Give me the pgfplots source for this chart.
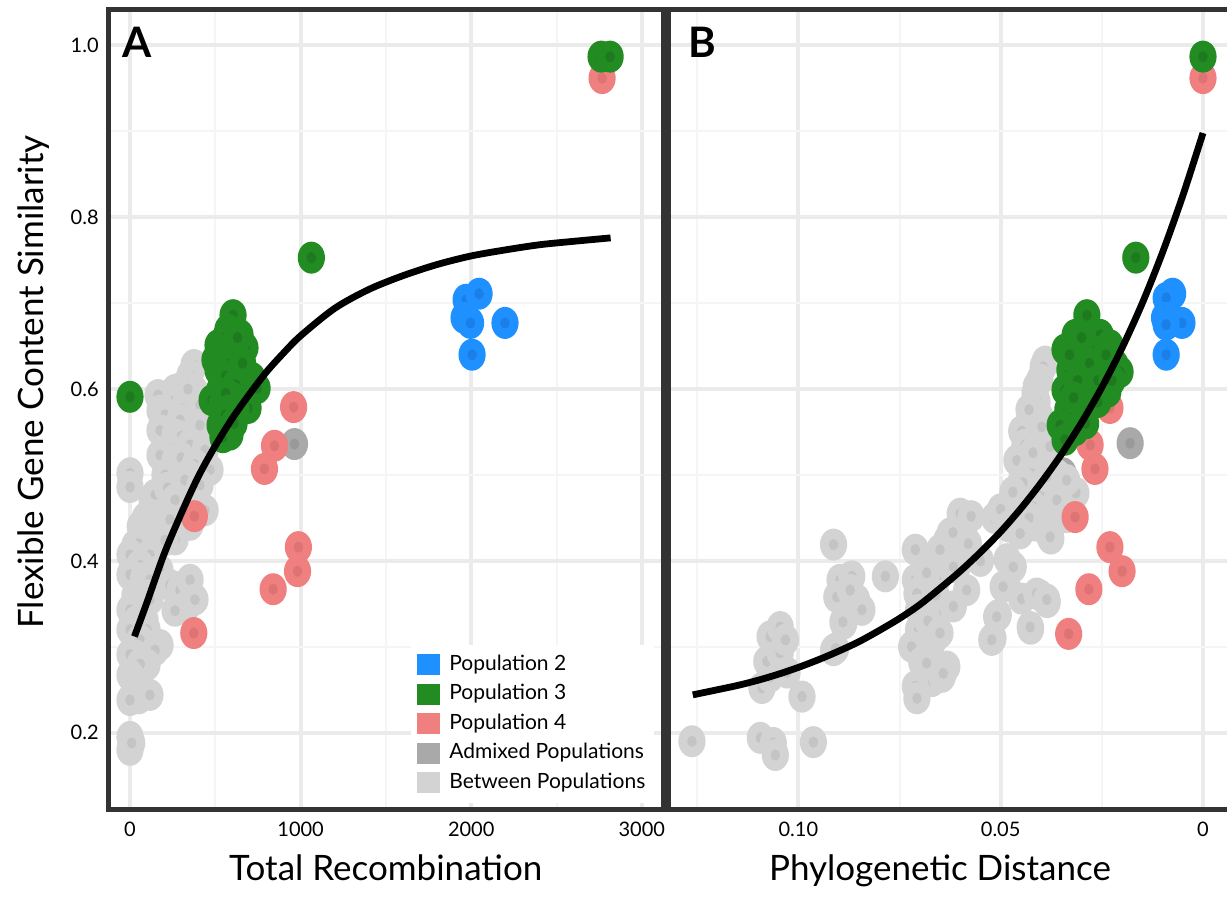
\documentclass[border=0pt]{standalone}
\usepackage{fontspec}
\setmainfont{Lato}
\usepackage{pgfplots}
\usepackage{pgfplotstable}
\pgfplotsset{compat=1.18}

\definecolor{popTwo}{HTML}{1E90FF}
\definecolor{popTwoC}{HTML}{1A7FE6}
\definecolor{popThree}{HTML}{228B22}
\definecolor{popThreeC}{HTML}{1E7A1E}
\definecolor{popFour}{HTML}{F08080}
\definecolor{popFourC}{HTML}{DE7373}
\definecolor{admix}{HTML}{A9A9A9}
\definecolor{admixC}{HTML}{999999}
\definecolor{betw}{HTML}{D3D3D3}
\definecolor{betwC}{HTML}{C4C4C4}
\definecolor{frame}{HTML}{333333}

\newcommand\blobmark[3]{%
 \pgfdeclareplotmark{#1}{%
  \pgfsetfillcolor{#2}%
  \pgfpathellipse{\pgfpointorigin}{\pgfqpoint{6.8pt}{0pt}}{\pgfqpoint{0pt}{8pt}}%
  \pgfusepath{fill}%
  \pgfsetfillcolor{#3}%
  \pgfpathellipse{\pgfpointorigin}{\pgfqpoint{2.4pt}{0pt}}{\pgfqpoint{0pt}{2.8pt}}%
  \pgfusepath{fill}}}
\blobmark{mkTwo}{popTwo}{popTwoC}
\blobmark{mkThree}{popThree}{popThreeC}
\blobmark{mkFour}{popFour}{popFourC}
\blobmark{mkAdm}{admix}{admixC}
\blobmark{mkBet}{betw}{betwC}

% ---------------- Panel A data: total recombination vs similarity
\pgfplotstableread{
x y
1970 0.704
2046 0.711
1958 0.683
1996 0.677
2198 0.677
2005 0.640
}\twoA
\pgfplotstableread{
x y
2761 0.987
2814 0.987
1063 0.753
0 0.591
604 0.686
574 0.669
645 0.663
516 0.651
674 0.648
557 0.640
616 0.634
498 0.634
516 0.622
674 0.620
586 0.613
715 0.613
745 0.601
528 0.600
645 0.597
481 0.587
692 0.578
539 0.582
621 0.576
528 0.558
586 0.547
545 0.544
560 0.660
600 0.650
590 0.630
560 0.615
620 0.605
600 0.590
560 0.595
660 0.630
630 0.660
580 0.575
560 0.570
610 0.560
}\threeA
\pgfplotstableread{
x y
2767 0.962
959 0.579
847 0.534
788 0.507
377 0.452
987 0.416
982 0.388
839 0.367
374 0.316
}\fourA
\pgfplotstableread{
x y
964 0.536
234 0.549
274 0.502
293 0.491
}\admA
\pgfplotstableread{
x y
375 0.628
352 0.616
322 0.605
264 0.599
381 0.597
234 0.587
164 0.593
322 0.582
410 0.582
340 0.600
176 0.575
205 0.570
293 0.564
410 0.558
176 0.552
264 0.547
300 0.545
352 0.535
440 0.529
230 0.530
176 0.523
264 0.517
300 0.520
381 0.512
469 0.506
205 0.500
340 0.500
322 0.494
410 0.488
0 0.502
0 0.486
130 0.470
147 0.477
220 0.485
264 0.471
381 0.465
440 0.459
117 0.454
200 0.450
234 0.448
352 0.442
264 0.425
90 0.450
60 0.440
88 0.430
140 0.420
205 0.424
29 0.418
50 0.420
0 0.407
117 0.407
59 0.395
176 0.389
0 0.384
80 0.380
117 0.378
234 0.372
322 0.372
293 0.366
352 0.378
340 0.349
264 0.342
381 0.355
29 0.360
100 0.360
60 0.350
117 0.355
0 0.343
88 0.331
40 0.330
100 0.320
176 0.302
164 0.302
0 0.320
59 0.308
147 0.296
30 0.290
100 0.279
0 0.291
88 0.279
60 0.280
0 0.267
20 0.260
59 0.256
77 0.248
51 0.240
117 0.244
0 0.238
0 0.195
0 0.180
10 0.188
}\betA

% ---------------- Panel B data: phylogenetic distance vs similarity
\pgfplotstableread{
x y
0.0075 0.711
0.0091 0.706
0.0095 0.683
0.0052 0.677
0.0091 0.640
0.0091 0.675
}\twoB
\pgfplotstableread{
x y
0.0 0.987
0.0166 0.753
0.0287 0.686
0.0316 0.663
0.0254 0.663
0.0341 0.646
0.0279 0.646
0.0230 0.651
0.0329 0.622
0.0267 0.625
0.0217 0.628
0.0205 0.620
0.0341 0.599
0.0279 0.599
0.0235 0.597
0.0304 0.587
0.0334 0.576
0.0291 0.573
0.0353 0.558
0.0316 0.552
0.0341 0.541
0.0300 0.660
0.0280 0.630
0.0310 0.610
0.0260 0.610
0.0330 0.640
0.0240 0.640
0.0320 0.590
0.0290 0.560
0.0260 0.585
0.0225 0.610
}\threeB
\pgfplotstableread{
x y
0.0 0.962
0.0230 0.578
0.0279 0.535
0.0267 0.507
0.0316 0.451
0.0230 0.416
0.0200 0.388
0.0282 0.367
0.0332 0.315
}\fourB
\pgfplotstableread{
x y
0.0180 0.537
0.0346 0.502
0.0348 0.491
}\admB
\pgfplotstableread{
x y
0.1263 0.190
0.1094 0.194
0.1062 0.188
0.1057 0.174
0.0963 0.189
0.0991 0.242
0.1090 0.252
0.1070 0.265
0.1078 0.283
0.1045 0.293
0.1070 0.312
0.1045 0.323
0.1032 0.308
0.1028 0.270
0.0913 0.296
0.0888 0.327
0.0913 0.419
0.0897 0.378
0.0905 0.358
0.0868 0.382
0.0856 0.355
0.0843 0.343
0.0872 0.366
0.0890 0.329
0.0908 0.298
0.0785 0.382
0.0711 0.413
0.0711 0.378
0.0707 0.362
0.0703 0.343
0.0703 0.320
0.0720 0.300
0.0695 0.282
0.0670 0.260
0.0711 0.254
0.0707 0.240
0.0666 0.308
0.0645 0.265
0.0633 0.277
0.0658 0.339
0.0680 0.330
0.0633 0.424
0.0608 0.393
0.0600 0.455
0.0617 0.347
0.0658 0.378
0.0660 0.360
0.0625 0.432
0.0650 0.413
0.0617 0.393
0.0584 0.366
0.0683 0.386
0.0650 0.316
0.0683 0.281
0.0642 0.269
0.0550 0.400
0.0580 0.420
0.0515 0.450
0.0573 0.452
0.0618 0.433
0.0506 0.337
0.0519 0.310
0.0426 0.321
0.0403 0.360
0.0448 0.356
0.0385 0.352
0.0484 0.371
0.0484 0.402
0.0376 0.426
0.0412 0.441
0.0462 0.472
0.0448 0.495
0.0457 0.518
0.0448 0.551
0.0403 0.568
0.0385 0.487
0.0314 0.479
0.0403 0.460
0.0390 0.632
0.0395 0.626
0.0403 0.611
0.0412 0.603
0.0415 0.595
0.0410 0.585
0.0427 0.576
0.0430 0.576
0.0398 0.556
0.0440 0.535
0.0460 0.517
0.0425 0.505
0.0420 0.526
0.0378 0.533
0.0445 0.491
0.0470 0.480
0.0400 0.475
0.0360 0.500
0.0386 0.498
0.0337 0.494
0.0420 0.463
0.0500 0.460
0.0361 0.471
0.0337 0.451
0.0430 0.450
0.0480 0.440
0.0378 0.440
0.0452 0.432
0.0378 0.428
0.0469 0.393
0.0494 0.370
0.0411 0.362
0.0386 0.355
0.0427 0.323
0.0510 0.335
0.0522 0.308
}\betB

\pgfplotsset{
  panel/.style={
    scale only axis,
    clip marker paths=true,
    height=400.25pt,
    ymin=0.110, ymax=1.0419,
    ytick={0.2,0.4,0.6,0.8,1.0},
    minor ytick={0.3,0.5,0.7,0.9},
    grid=both,
    major grid style={line width=2pt, color=black!8},
    minor grid style={line width=1pt, color=black!4},
    major tick length=0pt, minor tick length=0pt,
    axis line style={line width=2.5pt, color=frame},
    tick label style={font=\fontsize{10}{12}\selectfont, color=black},
    xticklabel style={yshift=-2.7pt},
    yticklabel style={xshift=-1.4pt},
    /pgf/number format/assume math mode=true,
    xlabel style={font=\fontsize{17.5}{20}\selectfont, anchor=base},
    ylabel style={font=\fontsize{17.5}{20}\selectfont, anchor=base},
  },
  swatch/.style={legend image code/.code={%
     \fill[#1] (0pt,-5pt) rectangle (11pt,5pt);
     \path (14.5pt,0pt);}},
  fitline/.style={black, line width=3.4pt, smooth, no marks},
}

\begin{document}
\begin{tikzpicture}
\useasboundingbox (0,0) rectangle (613.5pt,448.5pt);

% ---------------- Panel A
\begin{axis}[panel,
  at={(54.25pt,43.5pt)}, anchor=south west,
  width=277.25pt,
  xmin=-126, xmax=3124,
  xtick={0,1000,2000,3000},
  xticklabels={0,1000,2000,3000},
  minor xtick={500,1500,2500},
  yticklabels={0.2,0.4,0.6,0.8,1.0},
  xlabel={Total Recombination},
  xlabel style={at={(axis description cs:0.5,-0.0887)}},
  ylabel={Flexible Gene Content Similarity},
  ylabel style={at={(axis description cs:-0.118,0.5347)}},
  legend cell align=left,
  legend style={at={(axis description cs:0.544,0.0088)}, anchor=south west,
    draw=none, fill=white, font=\fontsize{10.5}{12}\selectfont,
    inner xsep=3pt, inner ysep=3.5pt, row sep=1.75pt,
    nodes={text height=7.8pt, text depth=2.2pt, inner sep=1.5pt}},
]
\addlegendimage{swatch=popTwo}\addlegendentry{Population 2}
\addlegendimage{swatch=popThree}\addlegendentry{Population 3}
\addlegendimage{swatch=popFour}\addlegendentry{Population 4}
\addlegendimage{swatch=admix}\addlegendentry{Admixed Populations}
\addlegendimage{swatch=betw}\addlegendentry{Between Populations}

\addplot[only marks, mark=mkAdm] table {\admA};
\addplot[only marks, mark=mkBet] table {\betA};
\addplot[only marks, mark=mkTwo] table {\twoA};
\addplot[only marks, mark=mkFour] table {\fourA};
\addplot[only marks, mark=mkThree] table {\threeA};
\addplot[fitline] coordinates {
 (26,0.312) (100,0.352) (200,0.408) (300,0.455) (400,0.498) (500,0.534)
 (600,0.566) (700,0.594) (800,0.620) (900,0.642) (1000,0.662) (1200,0.694)
 (1400,0.716) (1600,0.732) (1800,0.745) (2000,0.755) (2200,0.762)
 (2400,0.768) (2600,0.772) (2817,0.776)};
\node[anchor=base west, font=\fontsize{21}{24}\selectfont\bfseries]
  at (axis description cs:0.0117,0.9394) {A};
\end{axis}

% ---------------- Panel B
\begin{axis}[panel,
  at={(334.25pt,43.5pt)}, anchor=south west,
  width=280.25pt,
  x dir=reverse,
  xmin=-0.00643, xmax=0.1321,
  xtick={0,0.05,0.1},
  xticklabels={0,0.05,0.10},
  minor xtick={0.025,0.075,0.125},
  yticklabels={},
  xlabel={Phylogenetic Distance},
  xlabel style={at={(axis description cs:0.4844,-0.0887)}},
]
\addplot[only marks, mark=mkAdm] table {\admB};
\addplot[only marks, mark=mkBet] table {\betB};
\addplot[only marks, mark=mkTwo] table {\twoB};
\addplot[only marks, mark=mkFour] table {\fourB};
\addplot[only marks, mark=mkThree] table {\threeB};
\addplot[fitline] coordinates {
 (0.1261,0.244) (0.120,0.250) (0.115,0.255) (0.110,0.261) (0.105,0.268)
 (0.100,0.276) (0.095,0.285) (0.090,0.295) (0.085,0.306) (0.080,0.319)
 (0.075,0.333) (0.070,0.349) (0.065,0.368) (0.060,0.388) (0.055,0.410)
 (0.050,0.434) (0.045,0.461) (0.040,0.491) (0.035,0.524) (0.030,0.561)
 (0.025,0.602) (0.020,0.648) (0.015,0.700) (0.010,0.759) (0.005,0.825)
 (0.0,0.898)};
\node[anchor=base west, font=\fontsize{21}{24}\selectfont\bfseries]
  at (axis description cs:0.0233,0.9394) {B};
\end{axis}
\end{tikzpicture}
\end{document}
